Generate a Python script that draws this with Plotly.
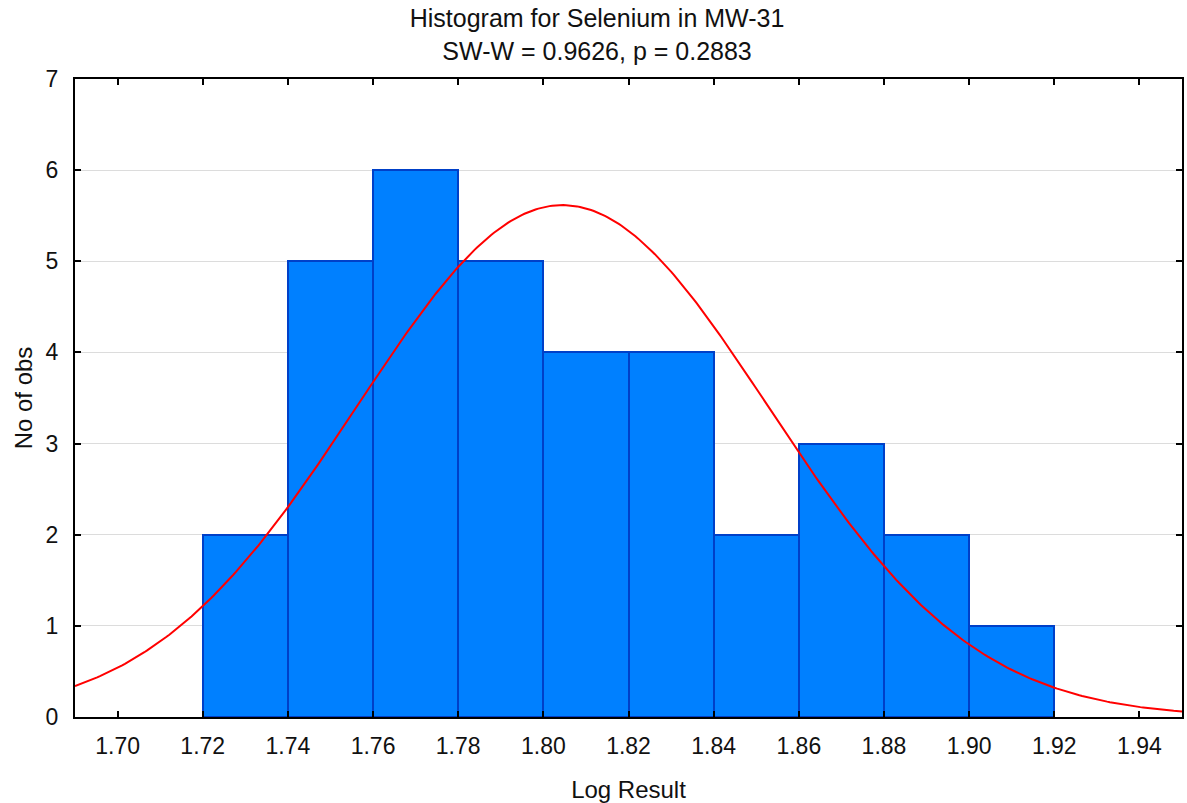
import numpy as np
import plotly.graph_objects as go

# Histogram data
bin_starts = [1.72, 1.74, 1.76, 1.78, 1.80, 1.82, 1.84, 1.86, 1.88, 1.90]
bin_width = 0.02
counts = [2, 5, 6, 5, 4, 4, 2, 3, 2, 1]

# Fitted normal curve parameters
fit_mean = 1.8045
fit_sd = 0.0483
n_obs = sum(counts)

x_ticks = [1.70, 1.72, 1.74, 1.76, 1.78, 1.80, 1.82, 1.84, 1.86, 1.88, 1.90, 1.92, 1.94]
x_tick_labels = ["%.2f" % v for v in x_ticks]
y_ticks = [0, 1, 2, 3, 4, 5, 6, 7]

centers = [s + bin_width / 2 for s in bin_starts]

xc = np.linspace(1.69, 1.95, 400)
yc = n_obs * bin_width / (fit_sd * np.sqrt(2 * np.pi)) * np.exp(-0.5 * ((xc - fit_mean) / fit_sd) ** 2)

fig = go.Figure()
fig.add_trace(go.Bar(
    x=centers, y=counts, width=bin_width,
    marker=dict(color="#0080FF", line=dict(color="#0040C8", width=2)),
    hoverinfo="x+y",
))
fig.add_trace(go.Scatter(
    x=xc, y=yc, mode="lines",
    line=dict(color="#FF0000", width=2),
))

font = "Liberation Sans, Arial, sans-serif"
fig.update_layout(
    width=1187, height=803,
    margin=dict(l=75, r=3, t=79, b=86),
    paper_bgcolor="white", plot_bgcolor="white",
    showlegend=False,
    font=dict(family=font, size=23, color="#111111"),
    title=dict(
        text="Histogram for Selenium in MW-31<br>SW-W = 0.9626, p = 0.2883",
        x=0.503, xref="container", xanchor="center",
        y=1 - 27 / 803, yref="container", yanchor="middle",
        font=dict(family=font, size=25, color="#111111"),
    ),
    bargap=0,
)
fig.update_xaxes(
    range=[1.69, 1.95],
    tickmode="array", tickvals=x_ticks, ticktext=x_tick_labels,
    ticks="inside", ticklen=6, tickwidth=2, tickcolor="black",
    showline=True, linecolor="black", linewidth=2, mirror="ticks",
    showgrid=False, zeroline=False,
    ticklabelstandoff=7,
    title=dict(text="Log Result", standoff=24, font=dict(size=24)),
    tickfont=dict(size=23),
)
fig.update_yaxes(
    range=[0, 7],
    tickmode="array", tickvals=y_ticks,
    ticks="inside", ticklen=6, tickwidth=2, tickcolor="black",
    showline=True, linecolor="black", linewidth=2, mirror="ticks",
    showgrid=True, gridcolor="#DCDCDC", gridwidth=1, zeroline=False,
    ticklabelstandoff=10,
    title=dict(text="No of obs", standoff=6, font=dict(size=24)),
    tickfont=dict(size=23),
)

fig.write_html("out.html")
